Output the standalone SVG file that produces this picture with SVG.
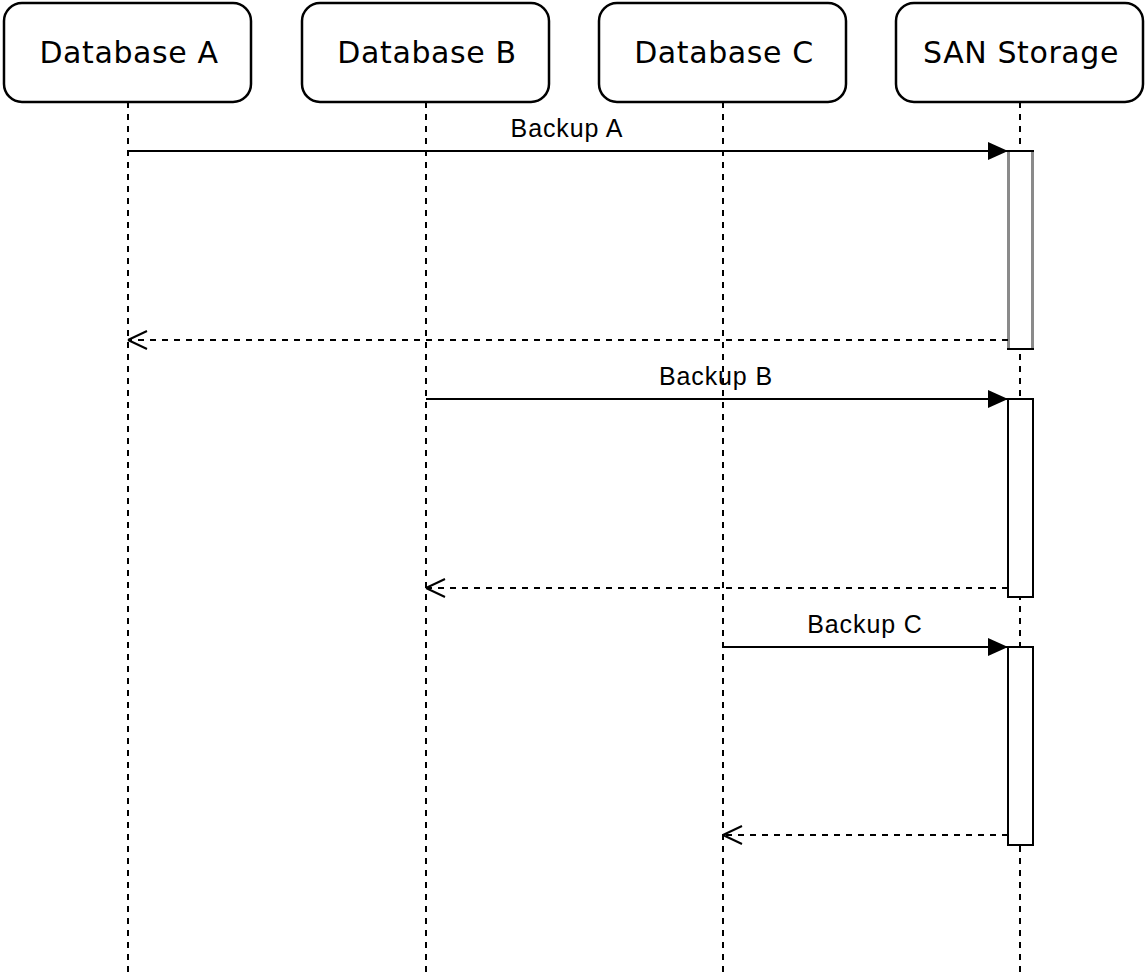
<svg xmlns="http://www.w3.org/2000/svg" width="1145" height="974" viewBox="0 0 1145 974">
  <style>
    .head rect { fill: #fff; stroke: #000; stroke-width: 2.5; }
    .head text { font-family: "DejaVu Sans", Verdana, sans-serif; font-size: 30px; letter-spacing: 0.6px; fill: #000; text-anchor: middle; }
    .life { stroke: #000; stroke-width: 2; stroke-dasharray: 6 6; fill: none; }
    .act { fill: #fff; stroke: #000; stroke-width: 2; }
    .msg { stroke: #000; stroke-width: 2; fill: none; }
    .ret { stroke: #000; stroke-width: 2; stroke-dasharray: 6 6; fill: none; }
    .lbl { font-family: "Liberation Sans", Arial, sans-serif; font-size: 25px; letter-spacing: 0.9px; fill: #000; text-anchor: middle; }
  </style>
  <defs>
    <marker id="solid" markerUnits="userSpaceOnUse" markerWidth="22" markerHeight="20" refX="20" refY="10" orient="auto">
      <path d="M0,1 L20,10 L0,19 Z" fill="#000"/>
    </marker>
    <marker id="open" markerUnits="userSpaceOnUse" markerWidth="24" markerHeight="22" refX="21" refY="11" orient="auto">
      <path d="M21,11 L2,2 M21,11 L2,20" stroke="#000" stroke-width="2" fill="none"/>
    </marker>
  </defs>
  <rect width="1145" height="974" fill="#fff"/>

  <!-- lifelines -->
  <g id="lifelines">
    <line class="life" x1="128" y1="102" x2="128" y2="974"/>
    <line class="life" x1="426" y1="102" x2="426" y2="974"/>
    <line class="life" x1="723" y1="102" x2="723" y2="974"/>
    <line class="life" x1="1020" y1="102" x2="1020" y2="974"/>
  </g>

  <!-- participants -->
  <g id="db-a" class="head">
    <rect x="4" y="3" width="247" height="99" rx="18"/>
    <text x="129" y="63">Database A</text>
  </g>
  <g id="db-b" class="head">
    <rect x="302" y="3" width="247" height="99" rx="18"/>
    <text x="427" y="63">Database B</text>
  </g>
  <g id="db-c" class="head">
    <rect x="599" y="3" width="247" height="99" rx="18"/>
    <text x="724" y="63">Database C</text>
  </g>
  <g id="san" class="head">
    <rect x="896" y="3" width="247" height="99" rx="18"/>
    <text x="1021" y="63">SAN Storage</text>
  </g>

  <!-- activation bars -->
  <g id="act-a">
    <rect x="1008" y="151" width="25" height="198" fill="#fff" stroke="none"/>
    <line x1="1008.5" y1="151" x2="1008.5" y2="349" stroke="#8a8a8a" stroke-width="3"/>
    <line x1="1032.5" y1="151" x2="1032.5" y2="349" stroke="#8a8a8a" stroke-width="3"/>
    <line x1="1007" y1="151" x2="1034" y2="151" stroke="#000" stroke-width="2"/>
    <line x1="1007" y1="349" x2="1034" y2="349" stroke="#000" stroke-width="2"/>
  </g>
  <g id="act-b"><rect class="act" x="1008" y="399" width="25" height="198"/></g>
  <g id="act-c"><rect class="act" x="1008" y="647" width="25" height="198"/></g>

  <!-- messages -->
  <g id="connectors">
    <line class="msg" x1="128" y1="151" x2="1008" y2="151" marker-end="url(#solid)"/>
    <text class="lbl" x="567" y="137">Backup A</text>
    <line class="ret" x1="1008" y1="340" x2="128" y2="340" marker-end="url(#open)"/>

    <line class="msg" x1="426" y1="399" x2="1008" y2="399" marker-end="url(#solid)"/>
    <text class="lbl" x="716" y="385">Backup B</text>
    <line class="ret" x1="1008" y1="588" x2="426" y2="588" marker-end="url(#open)"/>

    <line class="msg" x1="723" y1="647" x2="1008" y2="647" marker-end="url(#solid)"/>
    <text class="lbl" x="865" y="633">Backup C</text>
    <line class="ret" x1="1008" y1="835" x2="723" y2="835" marker-end="url(#open)"/>
  </g>
</svg>
